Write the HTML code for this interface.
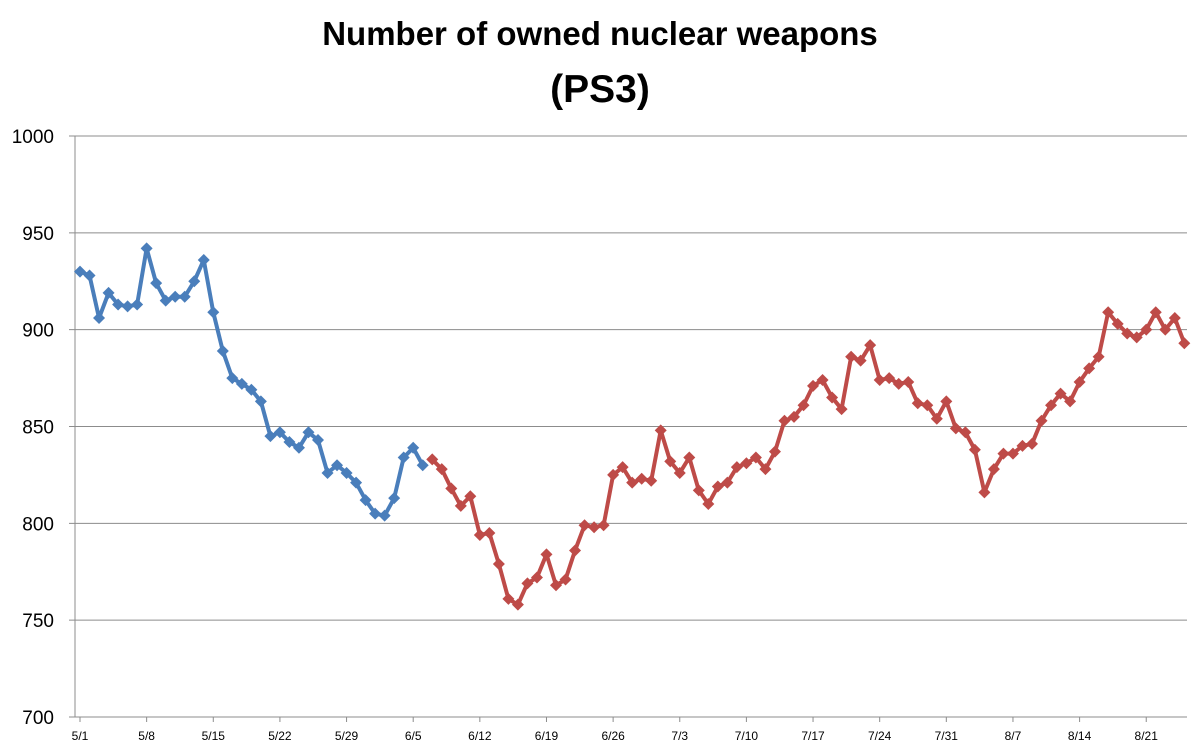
<!DOCTYPE html>
<html><head><meta charset="utf-8"><style>
body{margin:0;background:#fff;font-family:"Liberation Sans",sans-serif}
svg text{font-family:"Liberation Sans",sans-serif}
</style></head><body>
<svg id="c" width="1200" height="751">
<text x="600" y="45" text-anchor="middle" font-size="33" font-weight="bold">Number of owned nuclear weapons</text>
<text x="600" y="102" text-anchor="middle" font-size="39" font-weight="bold">(PS3)</text>
<g id="grid"></g><g id="ax"></g><g id="series"></g>
</svg>
<script>
const blueValues=[930,928,906,919,913,912,913,942,924,915,917,917,925,936,909,889,875,872,869,863,845,847,842,839,847,843,826,830,826,821,812,805,804,813,834,839,830];
const redValues=[833,828,818,809,814,794,795,779,761,758,769,772,784,768,771,786,799,798,799,825,829,821,823,822,848,832,826,834,817,810,819,821,829,831,834,828,837,853,855,861,871,874,865,859,886,884,892,874,875,872,873,862,861,854,863,849,847,838,816,828,836,836,840,841,853,861,867,863,873,880,886,909,903,898,896,900,909,900,906,893];
const yTicks=[700,750,800,850,900,950,1000];
const xLabels=["5/1","5/8","5/15","5/22","5/29","6/5","6/12","6/19","6/26","7/3","7/10","7/17","7/24","7/31","8/7","8/14","8/21"];
const L=75,R=1187,T=136,B=717,x0=80,dx=9.52;
const xs=i=>x0+i*dx, ys=v=>B-(v-700)/300*(B-T);
const NS="http://www.w3.org/2000/svg";
function mk(t,a,p){const e=document.createElementNS(NS,t);for(const k in a)e.setAttribute(k,a[k]);p.appendChild(e);return e;}
const grid=document.getElementById('grid'),ax=document.getElementById('ax'),ser=document.getElementById('series');
yTicks.forEach(v=>{
 const l=mk('line',{x1:L-6,x2:R,y1:ys(v),y2:ys(v),stroke:'#8c8c8c','stroke-width':1},grid);
 
 
 const t=mk('text',{x:54,y:ys(v)+7,'text-anchor':'end','font-size':19},ax);t.textContent=v;
 
 
});
const a=mk('line',{x1:L,x2:L,y1:T,y2:B,stroke:'#8c8c8c'},ax);


xLabels.forEach((s,i)=>{
 const x=xs(i*7);
 mk('line',{x1:x,x2:x,y1:B,y2:B+5,stroke:'#8c8c8c'},ax);
 const t=mk('text',{x:x,y:740,'text-anchor':'middle','font-size':12},ax);t.textContent=s;
 
 
});
function draw(vals,off,col,name){
 const pts=vals.map((v,i)=>[xs(i+off),ys(v)]);
 const p=mk('polyline',{points:pts.map(q=>q.join(',')).join(' '),fill:'none',stroke:col,'stroke-width':4,'stroke-linejoin':'round'},ser);
 
 
 pts.forEach(([x,y])=>{
  const m=mk('polygon',{points:`${x},${y-6} ${x+6},${y} ${x},${y+6} ${x-6},${y}`,fill:col},ser);
  
  
 });
}
draw(blueValues,0,'#4a7ebb','blue-series');
draw(redValues,blueValues.length,'#be4b48','red-series');
</script>
</body></html>
